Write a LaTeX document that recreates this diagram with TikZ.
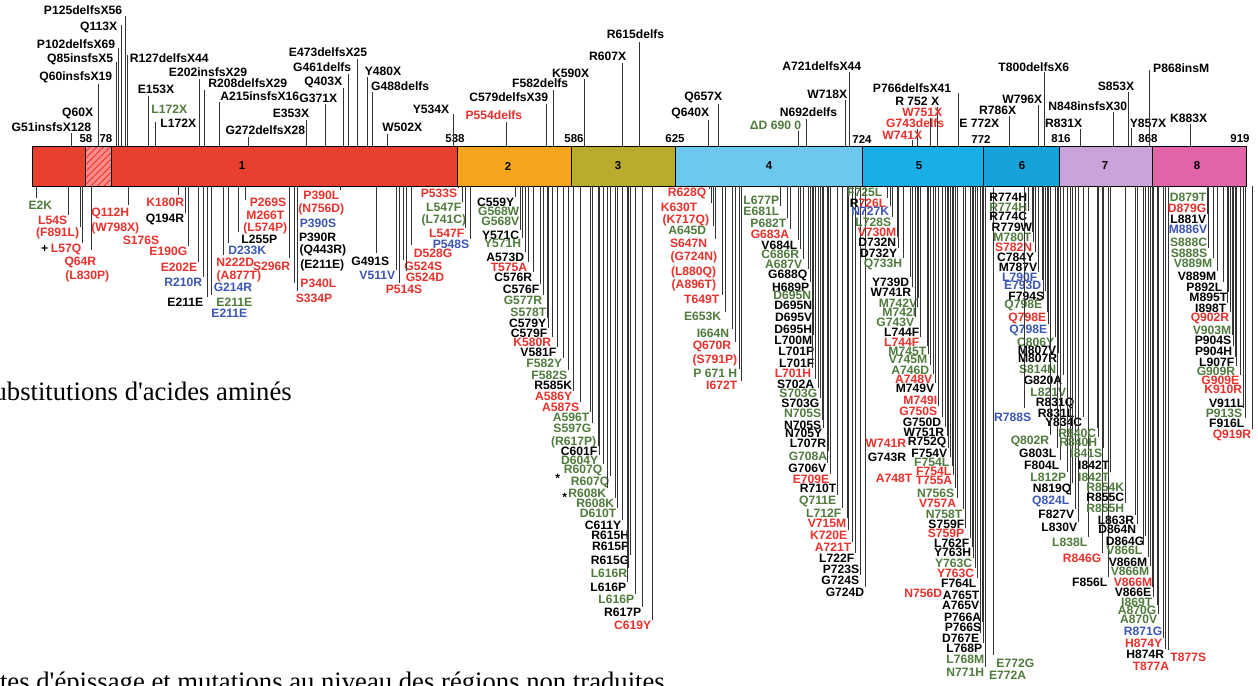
\documentclass[tikz,border=0pt]{standalone}
\usepackage{fontspec}
\setmainfont{Liberation Serif}
\newfontfamily\labfam{Liberation Sans}
\usetikzlibrary{patterns.meta}
\definecolor{mred}{HTML}{E8322B}
\definecolor{mgreen}{HTML}{4F7C3B}
\definecolor{mblue}{HTML}{3B57B3}
\definecolor{dA}{HTML}{E8402E}
\definecolor{dB}{HTML}{F4A41E}
\definecolor{dC}{HTML}{B9AB2C}
\definecolor{dD}{HTML}{6CC8EE}
\definecolor{dE}{HTML}{1AAEE6}
\definecolor{dF}{HTML}{18A2DA}
\definecolor{dG}{HTML}{C9A3D9}
\definecolor{dH}{HTML}{E264A8}
\newcounter{mc}
% bottom label, leader from its north east corner up to the bar
\newcommand\mutb[4]{\stepcounter{mc}%
  \node[mlab,text=#3] (m\themc) at (#1,#2) {#4};%
  \draw[mlead] (m\themc.north east) -- (m\themc.north east |- barS);}
% label without leader
\newcommand\mutn[4]{\stepcounter{mc}%
  \node[mlab,text=#3] (m\themc) at (#1,#2) {#4};}
% bottom label with explicit leader position
\newcommand\mutl[6]{\stepcounter{mc}%
  \node[mlab,text=#3] (m\themc) at (#1,#2) {#4};%
  \coordinate (c\themc) at (#5,#6);%
  \draw[mlead] (c\themc) -- (c\themc |- barS);}
% top label with leader down to the bar
\newcommand\mutt[6]{\stepcounter{mc}%
  \node[mlab,text=#3] (m\themc) at (#1,#2) {#4};%
  \coordinate (c\themc) at (#5,#6);%
  \draw[mlead] (c\themc) -- (c\themc |- barN);}
\newcommand\mutw[6]{\stepcounter{mc}%
  \node[mlab,anchor=west,text=#3] (m\themc) at (#1,#2) {#4};%
  \coordinate (c\themc) at (#5,#6);%
  \draw[mlead] (c\themc) -- (c\themc |- barN);}
\begin{document}
\begin{tikzpicture}[x=0.75pt,y=-0.75pt,
  mlab/.style={font=\labfam\bfseries\fontsize{9.1}{10}\selectfont,inner sep=0.4pt,anchor=east},
  mlead/.style={line width=0.45pt,draw=black!80},
  mnum/.style={font=\labfam\bfseries\fontsize{8.6}{9}\selectfont,inner sep=0pt},
  mdom/.style={font=\labfam\bfseries\fontsize{8.6}{9}\selectfont,inner sep=0pt},
  ftext/.style={font=\fontsize{20}{22}\selectfont,inner sep=0pt,anchor=base east}]
\useasboundingbox (0,0) rectangle (1258,686);
\fill[white] (0,0) rectangle (1258,686);
\clip (0,0) rectangle (1258,686);
\coordinate (barN) at (0,146);
\coordinate (barS) at (0,186);
% ---- protein bar ----
\fill[dA] (32,146) rectangle (457,186);
\fill[red!45!white] (85,146) rectangle (111,186);
\fill[pattern={Lines[angle=45,distance=3.5pt,line width=0.8pt]},pattern color=dA] (85,146) rectangle (111,186);
\fill[dB] (457,146) rectangle (571,186);
\fill[dC] (571,146) rectangle (675,186);
\fill[dD] (675,146) rectangle (862,186);
\fill[dE] (862,146) rectangle (983,186);
\fill[dF] (983,146) rectangle (1059,186);
\fill[dG] (1059,146) rectangle (1152,186);
\fill[dH] (1152,146) rectangle (1246,186);
\draw[line width=0.6pt] (32,146) rectangle (1246,186);
\foreach \bx in {85,111,457,571,675,862,983,1059,1152}
  \draw[line width=0.6pt] (\bx,146) -- (\bx,186);
\node[mdom] (d1) at (242,166) {1};
\node[mdom] (d2) at (508,166) {2};
\node[mdom] (d3) at (618,166) {3};
\node[mdom] (d4) at (769,166) {4};
\node[mdom] (d5) at (919,166) {5};
\node[mdom] (d6) at (1022,166) {6};
\node[mdom] (d7) at (1105,166) {7};
\node[mdom] (d8) at (1197,166) {8};
% ---- boundary numbers ----
\node[mnum] (n58) at (86,139) {58};
\node[mnum] (n78) at (106,139) {78};
\node[mnum] (n538) at (455,139) {538};
\node[mnum] (n586) at (574,139) {586};
\node[mnum] (n625) at (675,139) {625};
\node[mnum] (n724) at (862,139) {724};
\node[mnum] (n772) at (981,139) {772};
\node[mnum] (n816) at (1061,139) {816};
\node[mnum] (n868) at (1148,139) {868};
\node[mnum] (n919) at (1240,139) {919};
% ---- top labels ----
\mutt{123}{10}{black}{P125delfsX56}{125}{16}
\mutt{118}{27}{black}{Q113X}{121}{25}
\mutt{116}{44}{black}{P102delfsX69}{118}{48}
\mutt{114}{59}{black}{Q85insfsX5}{116}{62}
\mutw{129}{58}{black}{R127delfsX44}{127}{55}
\mutt{113}{77}{black}{Q60insfsX19}{98}{84}
\mutn{94}{113}{black}{Q60X}
\mutt{92}{127}{black}{G51insfsX128}{71}{133}
\mutt{175}{89}{black}{E153X}{148}{96}
\mutn{188}{109}{mgreen}{L172X}
\mutt{197}{123}{black}{L172X}{155}{122}
\mutt{248}{72}{black}{E202insfsX29}{199}{79}
\mutt{288}{83}{black}{R208delfsX29}{204}{90}
\mutt{300}{96}{black}{A215insfsX16}{219}{102}
\mutt{306}{130}{black}{G272delfsX28}{248}{137}
\mutt{310}{113}{black}{E353X}{306}{120}
\mutt{338}{98}{black}{G371X}{325}{104}
\mutt{343}{82}{black}{Q403X}{343}{88}
\mutt{352}{67}{black}{G461delfs}{348}{74}
\mutt{368}{52}{black}{E473delfsX25}{357}{59}
\mutt{402}{71}{black}{Y480X}{367}{77}
\mutt{430}{86}{black}{G488delfs}{372}{92}
\mutt{423}{127}{black}{W502X}{387}{134}
\mutt{450}{109}{black}{Y534X}{453}{114}
\mutt{523}{115}{mred}{P554delfs}{506}{122}
\mutt{549}{97}{black}{C579delfsX39}{546}{104}
\mutt{569}{83}{black}{F582delfs}{553}{90}
\mutt{590}{73}{black}{K590X}{584}{79}
\mutt{627}{56}{black}{R607X}{622}{63}
\mutt{665}{34}{black}{R615delfs}{639}{42}
\mutt{723}{97}{black}{Q657X}{718}{104}
\mutt{710}{113}{black}{Q640X}{708}{120}
\mutt{802}{125}{mgreen}{ΔD 690 0}{798}{131}
\mutt{838}{112}{black}{N692delfs}{806}{119}
\mutt{848}{94}{black}{W718X}{845}{100}
\mutt{862}{66}{black}{A721delfsX44}{849}{72}
\mutt{952}{88}{black}{P766delfsX41}{958}{93}
\mutt{940}{101}{black}{R 752 X}{937}{107}
\mutt{943}{112}{mred}{W751X}{930}{118}
\mutt{945}{123}{mred}{G743delfs}{917}{129}
\mutt{923}{135}{mred}{W741X}{912}{140}
\mutn{1000}{123}{black}{E 772X}
\mutt{1017}{110}{black}{R786X}{1009}{116}
\mutt{1043}{99}{black}{W796X}{1038}{105}
\mutt{1070}{67}{black}{T800delfsX6}{1044}{72}
\mutt{1128}{106}{black}{N848insfsX30}{1113}{112}
\mutt{1083}{123}{black}{R831X}{1080}{129}
\mutt{1135}{86}{black}{S853X}{1128}{92}
\mutt{1167}{123}{black}{Y857X}{1131}{128}
\mutt{1210}{68}{black}{P868insM}{1149}{70}
\mutt{1208}{118}{black}{K883X}{1190}{124}
% ---- domain 1 bottom ----
\mutl{53}{205}{mgreen}{E2K}{36}{198}
\mutb{68}{220}{mred}{L54S}
\mutb{80}{233}{mred}{(F891L)}
\node[mlab,text=black] (plus) at (49,249) {+};
\mutb{82}{249}{mred}{L57Q}
\mutl{97}{262}{mred}{Q64R}{91}{250}
\mutn{110}{276}{mred}{(L830P)}
\mutn{130}{213}{mred}{Q112H}
\mutn{140}{228}{mred}{(W798X)}
\mutl{160}{240}{mred}{S176S}{128}{205}
\mutl{185}{202}{mred}{K180R}{178}{195}
\mutb{185}{219}{black}{Q194R}
\mutb{188}{251}{mred}{E190G}
\mutb{198}{267}{mred}{E202E}
\mutb{203}{282}{mblue}{R210R}
\mutl{204}{302}{black}{E211E}{207}{297}
\mutn{253}{302}{mgreen}{E211E}
\mutn{248}{313}{mblue}{E211E}
\mutl{253}{287}{mblue}{G214R}{211}{295}
\mutl{255}{262}{mred}{N222D}{223}{255}
\mutn{262}{276}{mred}{(A877T)}
\mutl{267}{250}{mblue}{D233K}{228}{243}
\mutl{278}{239}{black}{L255P}{238}{232}
\mutl{287}{202}{mred}{P269S}{245}{200}
\mutn{285}{215}{mred}{M266T}
\mutn{288}{228}{mred}{(L574P)}
\mutl{291}{266}{mred}{S296R}{289}{258}
\mutb{340}{195}{mred}{P390L}
\mutn{345}{209}{mred}{(N756D)}
\mutn{337}{223}{mblue}{P390S}
\mutn{337}{237}{black}{P390R}
\mutn{347}{250}{black}{(Q443R)}
\mutn{345}{265}{black}{(E211E)}
\mutl{337}{283}{mred}{P340L}{294}{283}
\mutl{333}{298}{mred}{S334P}{297}{291}
\mutl{390}{261}{black}{G491S}{376}{253}
\mutb{396}{275}{mblue}{V511V}
\mutl{453}{253}{mred}{D528G}{411}{245}
\mutl{443}{266}{mred}{G524S}{403}{260}
\mutl{445}{277}{mred}{G524D}{406}{271}
\mutl{423}{289}{mred}{P514S}{399}{283}
\mutb{458}{193}{mred}{P533S}
\mutb{462}{207}{mgreen}{L547F}
\mutn{467}{220}{mgreen}{(L741C)}
\mutb{465}{233}{mred}{L547F}
\mutb{470}{244}{mblue}{P548S}
% ---- domains 2-3 ----
\mutb{515}{202}{black}{C559Y}
\mutb{520}{211}{mgreen}{G568W}
\mutb{520}{221}{mgreen}{G568V}
\mutb{520}{235}{black}{Y571C}
\mutb{522}{243}{mgreen}{Y571H}
\mutb{525}{257}{black}{A573D}
\mutb{528}{267}{mred}{T575A}
\mutb{533}{277}{black}{C576R}
\mutb{540}{289}{black}{C576F}
\mutb{543}{300}{mgreen}{G577R}
\mutb{547}{312}{mgreen}{S578T}
\mutb{547}{323}{black}{C579Y}
\mutb{548}{333}{black}{C579F}
\mutb{552}{342}{mred}{K580R}
\mutb{557}{352}{black}{V581F}
\mutb{563}{363}{mgreen}{F582Y}
\mutb{568}{375}{mgreen}{F582S}
\mutb{573}{385}{black}{R585K}
\mutb{573}{396}{mred}{A586Y}
\mutb{580}{407}{mred}{A587S}
\mutb{590}{417}{mgreen}{A596T}
\mutb{592}{428}{mgreen}{S597G}
\mutn{597}{442}{mgreen}{(R617P)}
\mutb{598}{451}{black}{C601F}
\mutb{599}{460}{mgreen}{D604Y}
\node[mlab,text=black] (st1) at (561,478) {*};
\mutb{603}{470}{mgreen}{R607Q}
\mutb{610}{482}{mgreen}{R607Q}
\node[mlab,text=black] (st2) at (568,497) {*};
\mutb{607}{493}{mgreen}{R608K}
\mutb{615}{503}{mgreen}{R608K}
\mutb{617}{513}{mgreen}{D610T}
\mutb{622}{525}{black}{C611Y}
\mutb{630}{535}{black}{R615H}
\mutb{630}{546}{black}{R615P}
\mutb{630}{560}{black}{R615G}
\mutb{628}{573}{mgreen}{L616R}
\mutb{627}{587}{black}{L616P}
\mutb{635}{599}{mgreen}{L616P}
\mutb{642}{612}{black}{R617P}
\mutb{652}{625}{mred}{C619Y}
% ---- domain 4 ----
\mutl{707}{193}{mred}{R628Q}{709}{189}
\mutl{698}{207}{mred}{K630T}{711}{203}
\mutn{710}{220}{mred}{(K717Q)}
\mutl{707}{230}{mgreen}{A645D}{713}{226}
\mutl{708}{243}{mred}{S647N}{715}{239}
\mutn{718}{257}{mred}{(G724N)}
\mutn{717}{272}{mred}{(L880Q)}
\mutn{717}{285}{mred}{(A896T)}
\mutl{720}{299}{mred}{T649T}{722}{295}
\mutl{722}{316}{mgreen}{E653K}{725}{312}
\mutl{730}{333}{mgreen}{I664N}{732}{329}
\mutl{732}{346}{mred}{Q670R}{735}{342}
\mutn{738}{360}{mred}{(S791P)}
\mutl{738}{373}{mgreen}{P 671 H}{739}{369}
\mutl{738}{385}{mred}{I672T}{741}{381}
\mutb{780}{200}{mgreen}{L677P}
\mutb{780}{211}{mgreen}{E681L}
\mutb{787}{223}{mgreen}{P682T}
\mutb{790}{234}{mred}{G683A}
\mutb{798}{245}{black}{V684L}
\mutb{800}{254}{mgreen}{C686R}
\mutb{803}{264}{mgreen}{A687V}
\mutb{808}{275}{black}{G688Q}
\mutb{810}{287}{black}{H689P}
\mutb{812}{295}{mgreen}{D695N}
\mutb{813}{305}{black}{D695N}
\mutb{813}{317}{black}{D695V}
\mutb{813}{329}{black}{D695H}
\mutb{813}{340}{black}{L700M}
\mutb{815}{351}{black}{L701P}
\mutb{815}{363}{black}{L701F}
\mutb{812}{373}{mred}{L701H}
\mutb{815}{384}{black}{S702A}
\mutb{818}{393}{mgreen}{S703G}
\mutb{820}{403}{black}{S703G}
\mutb{822}{413}{mgreen}{N705S}
\mutb{822}{425}{black}{N705S}
\mutb{823}{433}{black}{N705Y}
\mutb{827}{443}{black}{L707R}
\mutb{828}{456}{mgreen}{G708A}
\mutb{827}{468}{black}{G706V}
\mutb{830}{479}{mred}{E709E}
\mutb{837}{488}{black}{R710T}
\mutb{837}{501}{mgreen}{Q711E}
\mutb{842}{513}{mgreen}{L712F}
\mutb{847}{523}{mred}{V715M}
\mutb{848}{535}{mred}{K720E}
\mutb{852}{547}{mred}{A721T}
\mutb{855}{558}{black}{L722F}
\mutb{860}{569}{black}{P723S}
\mutb{860}{580}{black}{G724S}
\mutb{865}{592}{black}{G724D}
% ---- domain 5 ----
\mutb{883}{192}{mgreen}{F725L}
\mutb{887}{203}{black}{R\textcolor{mred}{726L}}
\mutb{890}{211}{mblue}{N727K}
\mutb{892}{222}{mgreen}{L728S}
\mutb{897}{232}{mred}{V730M}
\mutb{897}{242}{black}{D732N}
\mutb{898}{253}{black}{D732Y}
\mutb{903}{264}{mgreen}{Q733H}
\mutb{910}{282}{black}{Y739D}
\mutb{912}{292}{black}{W741R}
\mutb{918}{303}{mgreen}{M742V}
\mutb{917}{312}{mgreen}{M742I}
\mutb{915}{322}{mgreen}{G743V}
\mutb{920}{332}{black}{L744F}
\mutb{920}{342}{mred}{L744F}
\mutb{927}{351}{mgreen}{M745T}
\mutb{928}{359}{mgreen}{V745M}
\mutb{930}{370}{mgreen}{A746D}
\mutb{933}{379}{mred}{A748V}
\mutb{935}{388}{black}{M749V}
\mutb{938}{400}{mred}{M749I}
\mutb{938}{411}{mred}{G750S}
\mutb{942}{422}{black}{G750D}
\mutb{945}{432}{black}{W751R}
\mutb{947}{442}{black}{R752Q}
\mutn{907}{443}{mred}{W741R}
\mutn{907}{457}{black}{G743R}
\mutb{948}{453}{black}{F754V}
\mutb{950}{462}{mgreen}{F754L}
\mutn{913}{478}{mred}{A748T}
\mutb{952}{471}{mred}{F754L}
\mutb{953}{480}{mred}{T755A}
\mutb{955}{493}{mgreen}{N756S}
\mutb{957}{503}{mred}{V757A}
\mutb{963}{514}{mgreen}{N758T}
\mutb{965}{524}{black}{S759F}
\mutb{965}{533}{mred}{S759P}
\mutb{970}{543}{black}{L762F}
\mutb{972}{552}{black}{Y763H}
\mutb{973}{563}{mgreen}{Y763C}
\mutb{975}{573}{mred}{Y763C}
\mutb{977}{583}{black}{F764L}
\mutn{943}{593}{mred}{N756D}
\mutb{980}{595}{black}{A765T}
\mutb{980}{605}{black}{A765V}
\mutb{982}{617}{black}{P766A}
\mutb{982}{627}{black}{P766S}
\mutb{980}{638}{black}{D767E}
\mutb{983}{648}{black}{L768P}
\mutb{985}{659}{mgreen}{L768M}
\mutb{985}{672}{mgreen}{N771H}
\mutl{1035}{663}{mgreen}{E772G}{993}{655}
\mutn{1027}{675}{mgreen}{E772A}
% ---- domain 6 ----
\mutb{1028}{197}{black}{R774H}
\mutb{1028}{207}{mgreen}{R774H}
\mutb{1028}{216}{black}{R774C}
\mutb{1033}{227}{black}{R779W}
\mutb{1032}{237}{mgreen}{M780T}
\mutb{1033}{247}{mred}{S782N}
\mutb{1035}{257}{black}{C784Y}
\mutb{1038}{267}{black}{M787V}
\mutb{1038}{277}{mblue}{L790F}
\mutb{1042}{285}{mblue}{E793D}
\mutb{1045}{296}{black}{F794S}
\mutb{1043}{305}{mgreen}{Q798E}
\mutb{1047}{318}{mred}{Q798E}
\mutb{1048}{330}{mblue}{Q798E}
\mutb{1055}{342}{mgreen}{C806Y}
\mutb{1057}{350}{black}{M807V}
\mutb{1058}{358}{black}{M807R}
\mutb{1057}{369}{mgreen}{S814N}
\mutb{1063}{380}{black}{G820A}
\mutb{1067}{392}{mgreen}{L821V}
\mutb{1075}{403}{black}{R831Q}
\mutb{1075}{413}{black}{R831L}
\mutb{1083}{422}{black}{Y834C}
\mutl{1032}{417}{mblue}{R788S}{1024}{408}
\mutb{1050}{441}{mgreen}{Q802R}
\mutb{1057}{453}{black}{G803L}
\mutb{1060}{465}{black}{F804L}
\mutb{1067}{477}{mgreen}{L812P}
\mutb{1072}{489}{black}{N819Q}
\mutb{1070}{501}{mblue}{Q824L}
\mutb{1075}{514}{black}{F827V}
\mutb{1078}{527}{black}{L830V}
\mutb{1088}{542}{mgreen}{L838L}
\mutb{1102}{558}{mred}{R846G}
\mutb{1108}{582}{black}{F856L}
% ---- domain 7 ----
\mutb{1097}{433}{mgreen}{R840C}
\mutb{1098}{442}{mgreen}{R840H}
\mutb{1103}{453}{mgreen}{I841S}
\mutb{1110}{465}{black}{I842T}
\mutb{1110}{477}{mgreen}{I842T}
\mutb{1125}{487}{mgreen}{R854K}
\mutb{1125}{497}{black}{R855C}
\mutb{1125}{508}{mgreen}{R855H}
\mutb{1135}{520}{black}{L863R}
\mutb{1137}{529}{black}{D864N}
\mutb{1145}{541}{black}{D864G}
\mutb{1143}{550}{mgreen}{V866L}
\mutb{1148}{562}{black}{V866M}
\mutb{1150}{571}{mgreen}{V866M}
\mutb{1153}{582}{mred}{V866M}
\mutb{1152}{592}{black}{V866E}
\mutb{1153}{602}{mgreen}{I869T}
\mutb{1157}{610}{mgreen}{A870G}
\mutb{1158}{619}{mgreen}{A870V}
\mutb{1163}{631}{mblue}{R871G}
\mutb{1163}{643}{mred}{H874Y}
\mutb{1165}{654}{black}{H874R}
\mutn{1170}{666}{mred}{T877A}
\mutl{1207}{657}{mred}{T877S}{1168}{650}
% ---- domain 8 ----
\mutb{1207}{197}{mgreen}{D879T}
\mutb{1207}{208}{mred}{D879G}
\mutb{1207}{219}{black}{L881V}
\mutb{1208}{229}{mblue}{M886V}
\mutb{1208}{242}{mgreen}{S888C}
\mutb{1208}{253}{mgreen}{S888S}
\mutb{1213}{263}{mgreen}{V889M}
\mutb{1217}{276}{black}{V889M}
\mutb{1223}{287}{black}{P892L}
\mutb{1228}{297}{black}{M895T}
\mutb{1227}{308}{black}{I898T}
\mutb{1230}{318}{mred}{Q902R}
\mutb{1232}{330}{mgreen}{V903M}
\mutb{1232}{340}{black}{P904S}
\mutb{1233}{351}{black}{P904H}
\mutb{1235}{362}{black}{L907F}
\mutb{1236}{371}{mgreen}{G909R}
\mutb{1240}{380}{mred}{G909E}
\mutb{1243}{389}{mred}{K910R}
\mutb{1245}{403}{black}{V911L}
\mutb{1243}{413}{mgreen}{P913S}
\mutb{1245}{423}{black}{F916L}
\mutb{1252}{435}{mred}{Q919R}
% ---- partial captions (cut by the left and bottom edges) ----
\node[ftext] (cap1) at (292,400) {Substitutions d\textquotesingle acides aminés};
\node[ftext] (cap2) at (665,690) {Sites d\textquotesingle épissage et mutations au niveau des régions non traduites};
\end{tikzpicture}
\end{document}
